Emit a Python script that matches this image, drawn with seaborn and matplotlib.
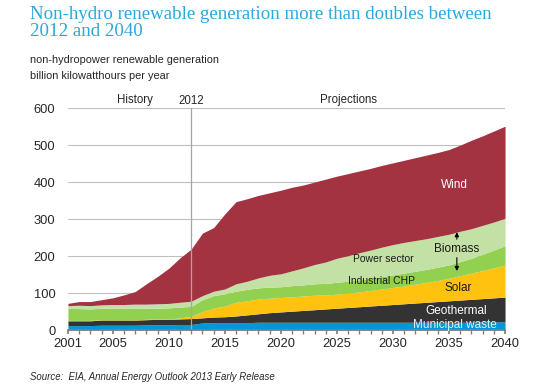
import numpy as np
import matplotlib
matplotlib.use("Agg")
import matplotlib.pyplot as plt
import seaborn as sns

years = list(range(2001, 2041))

municipal_waste = [12, 12, 12, 13, 13, 13, 13, 14, 14, 14, 15, 15,
                   19, 20, 20, 20, 20, 21, 21, 21, 21, 21, 21, 21, 21, 21, 21, 21,
                   21, 21, 21, 21, 21, 21, 21, 21, 21, 22, 22, 22]
geothermal = [13, 13, 13, 14, 14, 14, 14, 14, 15, 15, 15, 16,
              14, 15, 16, 18, 21, 23, 26, 28, 30, 32, 34, 36, 38, 40, 42, 44,
              46, 48, 50, 52, 54, 56, 58, 60, 62, 63, 65, 67]
solar = [1, 1, 1, 1, 1, 1, 1, 1, 1, 1, 3, 6,
         17, 24, 29, 37, 38, 40, 39, 39, 39, 39, 39, 38, 38, 39, 40, 42,
         44, 46, 48, 51, 54, 57, 61, 66, 71, 76, 81, 87]
industrial_chp = [33, 32, 31, 31, 31, 31, 31, 30, 29, 30, 29, 27,
                  32, 34, 33, 30, 31, 30, 30, 29, 30, 30, 31, 31, 32, 32, 33, 33,
                  34, 34, 35, 35, 35, 36, 36, 38, 40, 44, 48, 52]
power_sector = [7, 9, 9, 9, 10, 10, 11, 11, 12, 12, 13, 14,
                11, 12, 13, 20, 22, 27, 32, 35, 40, 46, 52, 58, 65, 69, 73, 76,
                79, 82, 83, 83, 83, 83, 83, 82, 80, 78, 76, 74]
wind = [6, 10, 11, 14, 18, 26, 34, 55, 74, 95, 120, 141,
        169, 172, 203, 222, 223, 223, 223, 226, 226, 224, 223, 224, 222, 222, 221, 221,
        221, 221, 222, 224, 226, 227, 229, 233, 239, 242, 246, 249]

series_names = ["Municipal waste", "Geothermal", "Solar", "Industrial CHP", "Power sector", "Wind"]
colors = ["#0098D8", "#333333", "#FFC20E", "#92D050", "#C3E0A5", "#A33341"]

sns.set_theme(style="white")
plt.rcParams['font.family'] = ['Liberation Sans', 'DejaVu Sans']

fig = plt.figure(figsize=(5.35, 3.86), dpi=100)
ax = fig.add_axes([0.127, 0.145, 0.817, 0.575])

ax.stackplot(years, municipal_waste, geothermal, solar, industrial_chp, power_sector, wind,
             colors=colors, labels=series_names, linewidth=0)

ax.set_xlim(2001, 2040)
ax.set_ylim(0, 600)
ax.set_yticks(range(0, 601, 100))
ax.yaxis.grid(True, color="#BFBFBF", linewidth=0.8)
ax.set_axisbelow(True)
ax.set_xticks([2001, 2005, 2010, 2015, 2020, 2025, 2030, 2035, 2040])
ax.set_xticks(years, minor=True)
ax.tick_params(axis="x", which="both", direction="out", length=3, color="#808080",
               bottom=True, labelsize=9.3, pad=3)
ax.tick_params(axis="y", length=0, labelsize=9.3, pad=9)
sns.despine(ax=ax, left=True)
ax.spines["bottom"].set_color("#808080")

ax.axvline(2012, color="#A6A6A6", linewidth=0.9, ymax=1.0)

ax.text(2007, 606, "History", fontsize=8.3, ha="center", va="bottom")
ax.text(2012, 603, "2012", fontsize=8.3, ha="center", va="bottom")
ax.text(2026, 606, "Projections", fontsize=8.3, ha="center", va="bottom")

ax.text(2035.5, 392, "Wind", color="white", fontsize=8.5, ha="center", va="center")
ax.text(2035.7, 220, "Biomass", color="#1A1A1A", fontsize=8.5, ha="center", va="center")
ax.annotate("", xy=(2035.7, 272), xytext=(2035.7, 238),
            arrowprops=dict(arrowstyle="-|>", color="black", lw=0.8, mutation_scale=6))
ax.annotate("", xy=(2035.7, 152), xytext=(2035.7, 203),
            arrowprops=dict(arrowstyle="-|>", color="black", lw=0.8, mutation_scale=6))
ax.text(2029.1, 191, "Power sector", color="#1A1A1A", fontsize=7.5, ha="center", va="center")
ax.text(2029.0, 132, "Industrial CHP", color="#1A1A1A", fontsize=7.5, ha="center", va="center")
ax.text(2035.8, 113, "Solar", color="#1A1A1A", fontsize=8.5, ha="center", va="center")
ax.text(2035.6, 51, "Geothermal", color="white", fontsize=8.5, ha="center", va="center")
ax.text(2035.5, 13, "Municipal waste", color="#DDEFFA", fontsize=8.5, ha="center", va="center")

fig.text(0.056, 0.985, "Non-hydro renewable generation more than doubles between\n2012 and 2040",
         color="#2AA7E0", fontsize=13.6, family=["Liberation Serif", "DejaVu Serif"],
         ha="left", va="top", linespacing=1.05)
fig.text(0.056, 0.845, "non-hydropower renewable generation", fontsize=7.9, ha="left", va="center")
fig.text(0.056, 0.803, "billion kilowatthours per year", fontsize=7.9, ha="left", va="center")
fig.text(0.056, 0.023, "Source:  EIA, Annual Energy Outlook 2013 Early Release", fontsize=6.9,
         style="italic", ha="left", va="center")

fig.savefig("out.png", dpi=100)
